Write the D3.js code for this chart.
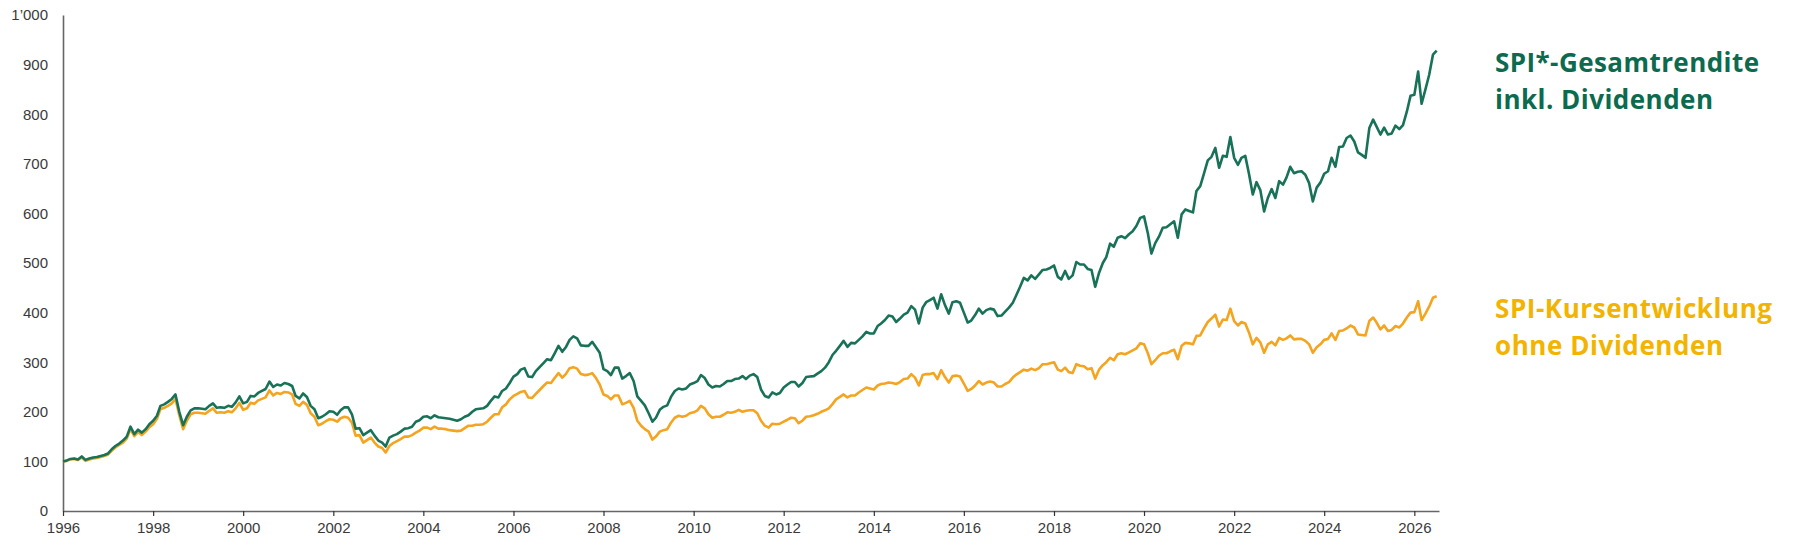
<!DOCTYPE html>
<html>
<head>
<meta charset="utf-8">
<script src="https://cdn.jsdelivr.net/npm/d3@7"></script>
<style>
  html, body { margin: 0; padding: 0; background: #ffffff; }
  svg { display: block; }
</style>
</head>
<body>
<svg id="chart" width="1800" height="550"></svg>
<script>
// ---------- DATA (monthly, Jan 1996 – Jul 2026, index 1996 = 100) ----------
const startMonth = "1996-01";
const endMonth = "2026-07";

const totalReturn = [
  // 1996
  100, 102, 105, 106, 104, 110, 103, 106, 108, 109, 111, 113,
  // 1997
  116, 125, 131, 136, 142, 150, 170, 155, 164, 158, 165, 175,
  // 1998
  182, 192, 212, 215, 220, 226, 235, 200, 173, 190, 203, 207,
  // 1999
  207, 206, 205, 212, 217, 208, 209, 208, 212, 210, 219, 231,
  // 2000
  217, 220, 232, 231, 238, 242, 246, 261, 250, 255, 253, 258,
  // 2001
  256, 252, 232, 227, 237, 230, 212, 205, 187, 190, 195, 201,
  // 2002
  200, 194, 203, 209, 209, 195, 166, 167, 153, 158, 163, 152,
  // 2003
  142, 138, 130, 148, 152, 155, 160, 166, 167, 170, 180, 183,
  // 2004
  190, 191, 187, 193, 189, 188, 187, 186, 184, 182, 185, 190,
  // 2005
  193, 200, 205, 206, 207, 212, 222, 231, 229, 242, 247, 258,
  // 2006
  271, 276, 285, 288, 271, 270, 282, 290, 298, 306, 304, 318,
  // 2007
  333, 321, 330, 345, 352, 348, 334, 333, 333, 341, 330, 319,
  // 2008
  286, 282, 274, 289, 289, 267, 272, 278, 262, 231, 222, 213,
  // 2009
  197, 180, 188, 204, 210, 213, 230, 242, 247, 245, 247, 255,
  // 2010
  258, 262, 274, 268, 255, 249, 252, 251, 256, 262, 262, 266,
  // 2011
  267, 272, 266, 273, 276, 270, 245, 232, 229, 239, 235, 238,
  // 2012
  249, 255, 260, 260, 251, 258, 270, 271, 272, 277, 282, 289,
  // 2013
  300, 315, 323, 333, 343, 331, 339, 338, 345, 352, 361, 358,
  // 2014
  358, 373, 378, 385, 394, 392, 381, 388, 396, 400, 413, 406,
  // 2015
  378, 410, 421, 425, 430, 408, 437, 415, 398, 421, 423, 420,
  // 2016
  400, 380, 384, 395, 408, 398, 405, 408, 406, 393, 394, 402,
  // 2017
  410, 420, 435, 452, 470, 465, 475, 468, 477, 486, 487, 490,
  // 2018
  495, 472, 467, 484, 468, 475, 502, 497, 497, 488, 486, 452,
  // 2019
  480, 500, 512, 539, 533, 551, 554, 550, 558, 564, 575, 591,
  // 2020
  594, 560, 519, 540, 553, 571, 572, 578, 584, 551, 598, 608,
  // 2021
  605, 602, 645, 655, 680, 707, 714, 732, 692, 716, 714, 754,
  // 2022
  712, 698, 712, 716, 680, 638, 663, 647, 604, 631, 649, 631,
  // 2023
  665, 658, 672, 694, 681, 684, 685, 678, 661, 624, 652, 662,
  // 2024
  680, 685, 712, 694, 734, 735, 752, 757, 745, 723, 718, 712,
  // 2025
  772, 789, 775, 759, 773, 759, 761, 777, 770, 778, 805, 837,
  // 2026
  839, 886, 821, 850, 879, 920, 928
];

const priceIndex = [
  // 1996
  100, 101, 104, 105, 103, 108, 101, 104, 106, 107, 109, 111,
  // 1997
  114, 122, 128, 133, 138, 146, 165, 151, 159, 153, 160, 169,
  // 1998
  175, 186, 205, 208, 212, 217, 226, 193, 165, 182, 195, 198,
  // 1999
  198, 197, 196, 202, 207, 198, 199, 198, 201, 199, 207, 218,
  // 2000
  204, 207, 218, 216, 223, 226, 229, 243, 233, 238, 236, 240,
  // 2001
  239, 235, 216, 212, 220, 214, 197, 190, 173, 176, 181, 185,
  // 2002
  184, 180, 187, 190, 188, 178, 152, 153, 138, 143, 148, 138,
  // 2003
  130, 127, 118, 131, 137, 141, 145, 150, 150, 153, 158, 162,
  // 2004
  168, 168, 165, 170, 166, 166, 165, 163, 162, 161, 162, 167,
  // 2005
  172, 172, 174, 174, 175, 180, 188, 195, 195, 209, 215, 225,
  // 2006
  232, 236, 240, 242, 229, 228, 236, 244, 252, 259, 258, 268,
  // 2007
  278, 269, 276, 288, 290, 287, 276, 274, 275, 278, 268, 255,
  // 2008
  235, 232, 225, 233, 233, 215, 218, 222, 208, 182, 172, 165,
  // 2009
  160, 144, 150, 160, 163, 165, 178, 188, 192, 190, 192, 197,
  // 2010
  199, 203, 212, 207, 195, 188, 190, 190, 194, 199, 198, 200,
  // 2011
  204, 200, 202, 203, 203, 197, 182, 172, 168, 176, 175, 176,
  // 2012
  180, 184, 188, 187, 177, 182, 190, 191, 193, 196, 200, 203,
  // 2013
  207, 216, 225, 230, 235, 229, 233, 233, 239, 244, 249, 247,
  // 2014
  245, 253, 256, 257, 259, 258, 256, 260, 266, 267, 276, 269,
  // 2015
  253, 274, 276, 276, 278, 266, 284, 270, 259, 272, 273, 271,
  // 2016
  257, 242, 246, 253, 262, 255, 259, 261, 259, 251, 251, 256,
  // 2017
  260, 269, 275, 280, 285, 283, 287, 284, 288, 296, 296, 298,
  // 2018
  300, 285, 282, 289, 280, 278, 296, 293, 292, 286, 288, 267,
  // 2019
  285, 294, 300, 309, 304, 316, 318, 316, 320, 324, 328, 338,
  // 2020
  336, 318, 296, 304, 313, 318, 318, 322, 325, 306, 333, 339,
  // 2021
  338, 336, 353, 354, 368, 381, 388, 396, 372, 386, 385, 408,
  // 2022
  383, 374, 381, 378, 360, 336, 349, 340, 319, 336, 341, 334,
  // 2023
  349, 345, 348, 354, 346, 347, 347, 343, 336, 319, 330, 336,
  // 2024
  345, 347, 358, 345, 363, 364, 368, 374, 370, 356, 355, 354,
  // 2025
  383, 390, 380, 366, 374, 363, 365, 373, 370, 378, 390, 400,
  // 2026
  401, 423, 385, 398, 412, 430, 433
];

const yTicks = [0, 100, 200, 300, 400, 500, 600, 700, 800, 900, 1000];
const xTickYears = [1996, 1998, 2000, 2002, 2004, 2006, 2008, 2010, 2012, 2014, 2016, 2018, 2020, 2022, 2024, 2026];

const seriesNames = ["SPI*-Gesamtrendite|inkl. Dividenden", "SPI-Kursentwicklung|ohne Dividenden"];

// ---------- LAYOUT / STYLE ----------
const colGreenLine = "#177257";
const colGreenText = "#0c6b4e";
const colOrangeLine = "#f5a41f";
const colOrangeText = "#f2b400";
const axisColor = "#666666";
const labelColor = "#3a3a3a";

const parseMonth = d3.timeParse("%Y-%m");
const months = d3.timeMonth.range(parseMonth(startMonth), d3.timeMonth.offset(parseMonth(endMonth), 1));

const svg = d3.select("#chart");

const x = d3.scaleTime()
  .domain([new Date(1996, 0, 1), new Date(2026, 6, 20)])
  .range([63, 1439]);

const y = d3.scaleLinear()
  .domain([0, 1000])
  .range([511, 15]);

const fmtY = v => v >= 1000 ? d3.format(",")(v).replace(",", "\u2019") : String(v);

// Y axis
const yAxis = svg.append("g")
  .attr("transform", `translate(${x.range()[0]},0)`)
  .call(d3.axisLeft(y).tickValues(yTicks).tickSize(0).tickPadding(15).tickFormat(fmtY));
yAxis.select(".domain").attr("stroke", axisColor).attr("stroke-width", 1.6);
yAxis.selectAll("text")
  .attr("fill", labelColor)
  .style("font-family", "'Liberation Sans', Arial, sans-serif")
  .style("font-size", "15px");

// X axis
const xAxis = svg.append("g")
  .attr("transform", `translate(0,${y(0)})`)
  .call(d3.axisBottom(x)
    .tickValues(xTickYears.map(yr => new Date(yr, 0, 1)))
    .tickSize(5).tickSizeOuter(0).tickPadding(6)
    .tickFormat(d3.timeFormat("%Y")));
xAxis.select(".domain").attr("stroke", axisColor).attr("stroke-width", 1.6);
xAxis.selectAll(".tick line").attr("stroke", "#333").attr("stroke-width", 1.2);
xAxis.selectAll("text")
  .attr("fill", labelColor)
  .style("font-family", "'Liberation Sans', Arial, sans-serif")
  .style("font-size", "15px");

// Lines
const line = d3.line()
  .x((d, i) => x(months[i]))
  .y(d => y(d))
  .curve(d3.curveLinear);

svg.append("path")
  .datum(priceIndex)
  .attr("fill", "none")
  .attr("stroke", colOrangeLine)
  .attr("stroke-width", 2.6)
  .attr("stroke-linejoin", "round")
  .attr("d", line);

svg.append("path")
  .datum(totalReturn)
  .attr("fill", "none")
  .attr("stroke", colGreenLine)
  .attr("stroke-width", 2.6)
  .attr("stroke-linejoin", "round")
  .attr("d", line);

// Legend labels
const legend = [
  { name: seriesNames[0], color: colGreenText, y: 72, widths: [264, 218] },
  { name: seriesNames[1], color: colOrangeText, y: 318, widths: [277, 228] }
];
legend.forEach(l => {
  const t = svg.append("text")
    .attr("x", 1495)
    .attr("y", l.y)
    .attr("fill", l.color)
    .style("font-family", "'Open Sans', sans-serif")
    .style("font-weight", "700")
    .style("font-size", "26px");
  l.name.split("|").forEach((s, i) => {
    t.append("tspan")
      .attr("x", 1495)
      .attr("dy", i === 0 ? 0 : 37)
      .attr("textLength", l.widths[i])
      .attr("lengthAdjust", "spacing")
      .text(s);
  });
});
</script>
</body>
</html>
